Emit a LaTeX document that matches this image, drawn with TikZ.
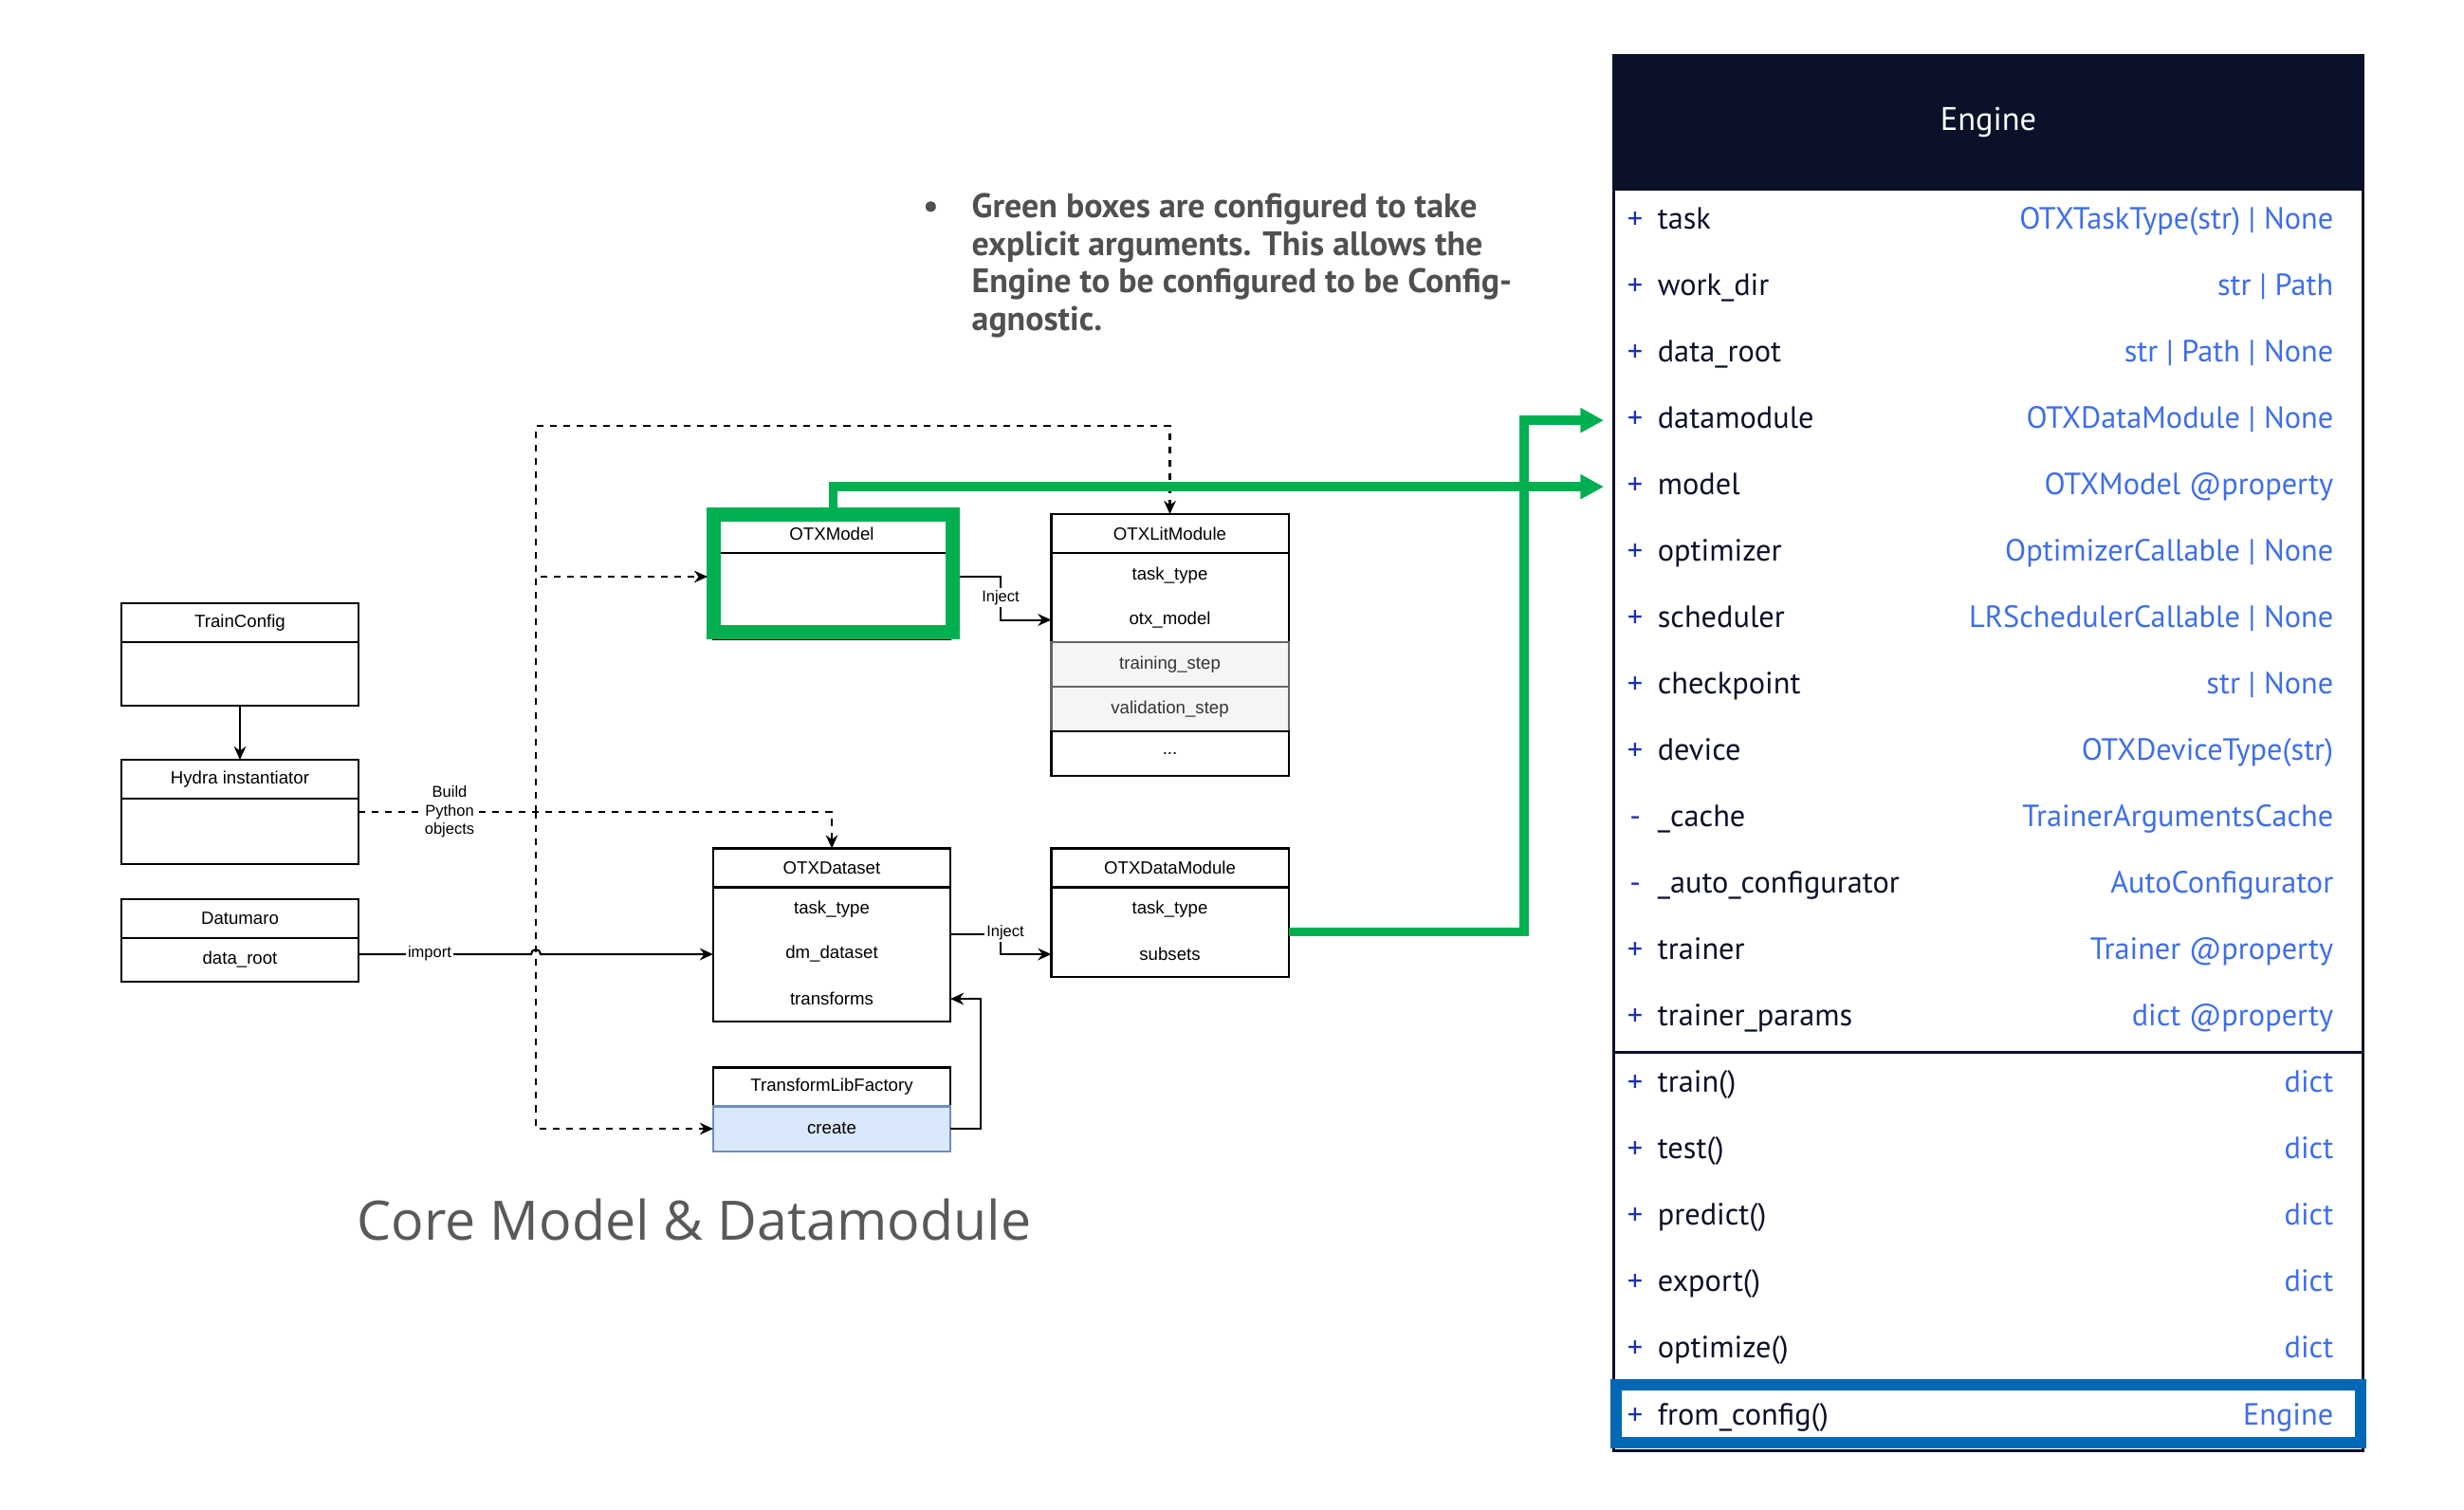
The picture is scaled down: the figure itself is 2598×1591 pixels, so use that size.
\documentclass[tikz,border=0pt]{standalone}
\usepackage{fontspec}
\setmainfont{Liberation Sans}
\newfontfamily\clearfont{PT Sans}
\newfontfamily\thinfont{Open Sans}
\usepackage{tikz}
\usetikzlibrary{arrows.meta, positioning}
\definecolor{engnavy}{RGB}{11,17,40}
\definecolor{typeblue}{RGB}{62,110,235}
\definecolor{plusblue}{RGB}{30,50,170}
\definecolor{optgreen}{RGB}{0,176,80}
\definecolor{intelblue}{RGB}{0,104,181}
\definecolor{stepgray}{RGB}{245,245,245}
\definecolor{createblue}{RGB}{218,232,252}
\definecolor{createline}{RGB}{108,142,191}
\definecolor{notegray}{RGB}{80,80,80}
\newcommand{\boxfont}{\fontsize{5.3}{6.2}\selectfont}
\newcommand{\tagfont}{\fontsize{4.7}{5.6}\selectfont}
\newcommand{\rowfont}{\clearfont\fontsize{9.2}{10}\selectfont}

\begin{document}
\begin{tikzpicture}[x=0.01cm, y=-0.01cm,
  clshead/.style={draw, line width=0.6pt, minimum width=2.5cm, minimum height=0.41cm, inner sep=0pt, outer sep=0pt, font=\boxfont},
  clsrow/.style={line width=0.6pt, minimum width=2.5cm, minimum height=0.47cm, inner sep=0pt, outer sep=0pt, font=\boxfont},
  steprow/.style={clsrow, draw=black!60, fill=stepgray, text=black!80},
  boxline/.style={line width=0.6pt},
  arr/.style={line width=0.6pt, -{Stealth[length=4pt, width=3.6pt]}},
  dline/.style={arr, dash pattern=on 2pt off 2pt},
  tag/.style={fill=white, inner sep=0.6pt, font=\tagfont, align=center},
  gbox/.style={draw=optgreen, line width=0.15cm, minimum width=2.51cm, minimum height=1.23cm, inner sep=0pt},
  garr/.style={optgreen, line width=2.7pt, -{Triangle[length=7pt, width=7pt]}, shorten >=0.1cm},
  erow/.style={minimum width=7.89cm, minimum height=0.7cm, inner sep=0pt},
  etext/.style={font=\rowfont, inner sep=0pt, text height=6.6pt, text depth=2pt}
]
\useasboundingbox (0,0) rectangle (2598,1591);

% config side
\node[clshead] (tc) at (253,656.5) {TrainConfig};
\node[clsrow, draw, minimum height=0.67cm, below=0pt of tc] (tcBody) {};
\node[clshead] (hy) at (253,821.5) {Hydra instantiator};
\node[clsrow, draw, minimum height=0.69cm, below=0pt of hy] (hyBody) {};
\node[clshead] (dat) at (253,968.5) {Datumaro};
\node[clsrow, draw, minimum height=0.46cm, below=0pt of dat] (datRoot) {data\_root};

% model side
\node[clshead] (om) at (877,562.5) {OTXModel};
\node[clsrow, draw, minimum height=0.91cm, below=0pt of om] (omBody) {};
\node[gbox] (omGreen) at (878.5,604.5) {};

\node[clshead] (lit) at (1233.5,562.5) {OTXLitModule};
\node[clsrow, below=0pt of lit] (litTask) {task\_type};
\node[clsrow, below=0pt of litTask] (litModel) {otx\_model};
\draw[boxline] (litTask.north west) rectangle (litModel.south east);
\node[steprow, below=0pt of litModel] (litTrain) {training\_step};
\node[steprow, below=0pt of litTrain] (litVal) {validation\_step};
\node[clsrow, draw, below=0pt of litVal] (litMore) {...};

% data side
\node[clshead] (ds) at (877,915) {OTXDataset};
\node[clsrow, below=0pt of ds] (dsTask) {task\_type};
\node[clsrow, below=0pt of dsTask] (dsDm) {dm\_dataset};
\node[clsrow, below=0pt of dsDm] (dsTf) {transforms};
\draw[boxline] (dsTask.north west) rectangle (dsTf.south east);

\node[clshead] (dm) at (1233.5,915) {OTXDataModule};
\node[clsrow, below=0pt of dm] (dmTask) {task\_type};
\node[clsrow, below=0pt of dmTask] (dmSub) {subsets};
\draw[boxline] (dmTask.north west) rectangle (dmSub.south east);

\node[clshead] (tlf) at (877,1146) {TransformLibFactory};
\node[clsrow, draw=createline, fill=createblue, below=0pt of tlf] (tlfCreate) {create};

% connectors
\coordinate (split) at (565,856);
\coordinate (bend) at (565,449);
\coordinate (omIn) at (746,608);
\coordinate (injD) at (1055,985);
\coordinate (gx) at (1607,0);

\draw[arr] (tcBody) -- (hy);
\draw[dline] (hyBody.east |- split) -- (split) -| (ds.north);
\draw[dline] (split) -- (bend) -| (lit.north);
\draw[dline] (split) |- (omIn);
\draw[dline] (split) |- (tlfCreate.west);
\node[tag] at (474,856) {Build\\Python\\objects};

\draw[arr] (datRoot.east |- dsDm) -- ([xshift=-0.05cm]split |- dsDm) arc[start angle=180, end angle=0, radius=0.05cm] -- (dsDm.west);
\node[tag] at (453,1005.5) {import};

\draw[arr] (omGreen.east |- omIn) -- ++(43,0) |- (litModel.west);
\node[tag] at (1055,630) {Inject};
\draw[arr] (dsDm.east |- injD) -- (injD) |- (dmSub.west);
\node[tag] at (1060,983) {Inject};
\draw[arr] (tlfCreate.east) -- ++(32,0) |- (dsTf.east);

% engine
\node[fill=engnavy, draw=engnavy, line width=0.9pt, minimum width=7.89cm, minimum height=1.39cm, text=white, font=\clearfont\fontsize{9.8}{11}\selectfont] (eng) at (2096.5,128.5) {Engine};
\node[draw=engnavy, line width=0.9pt, minimum width=7.89cm, minimum height=13.29cm, inner sep=0pt, outer sep=0pt, below=0pt of eng] (engBody) {};

\foreach \s/\n/\t [count=\i] in {+/task/OTXTaskType(str) | None, +/work\_dir/str | Path, +/data\_root/str | Path | None, +/datamodule/OTXDataModule | None, +/model/OTXModel @property, +/optimizer/OptimizerCallable | None, +/scheduler/LRSchedulerCallable | None, +/checkpoint/str | None, +/device/OTXDeviceType(str), -/\_cache/TrainerArgumentsCache, -/\_auto\_configurator/AutoConfigurator, +/trainer/Trainer @property, +/trainer\_params/dict @property, +/train()/dict, +/test()/dict, +/predict()/dict, +/export()/dict, +/optimize()/dict, +/from\_config()/Engine}
{
\pgfmathsetmacro{\yy}{233+70.05*(\i-1)}
\node[erow] (row\i) at (2096.5,\yy) {};
\node[etext, text=plusblue] at ([xshift=0.23cm]row\i.west) {\s};
\node[etext, text=engnavy, anchor=west] at ([xshift=0.46cm]row\i.west) {\n};
\node[etext, text=typeblue, anchor=east] at ([xshift=-0.31cm]row\i.east) {\t};
}
\draw[engnavy, line width=0.9pt] (row13.south west) -- (row13.south east);
\node[draw=intelblue, line width=3.4pt, minimum width=7.85cm, minimum height=0.61cm, inner sep=0pt] (hl) at (2096.5,1490.5) {};

% green links
\draw[garr] (dmSub.north east) -- (dmSub.north east -| gx) |- (row4.west);
\draw[garr] (omGreen.north) |- (row5.west);

% texts
\node[font=\clearfont\bfseries\fontsize{10.2}{11.3}\selectfont, text=notegray, align=left, anchor=north west, inner sep=0pt] (note) at (1024,203) {\llap{\textbullet\hspace{0.35cm}}Green boxes are configured to take\\explicit arguments. This allows the\\Engine to be configured to be Config-\\agnostic.};
\node[font=\thinfont\fontsize{16.3}{19}\selectfont, text=black!65] (title) at (732,1286) {Core Model \& Datamodule};

\end{tikzpicture}
\end{document}
